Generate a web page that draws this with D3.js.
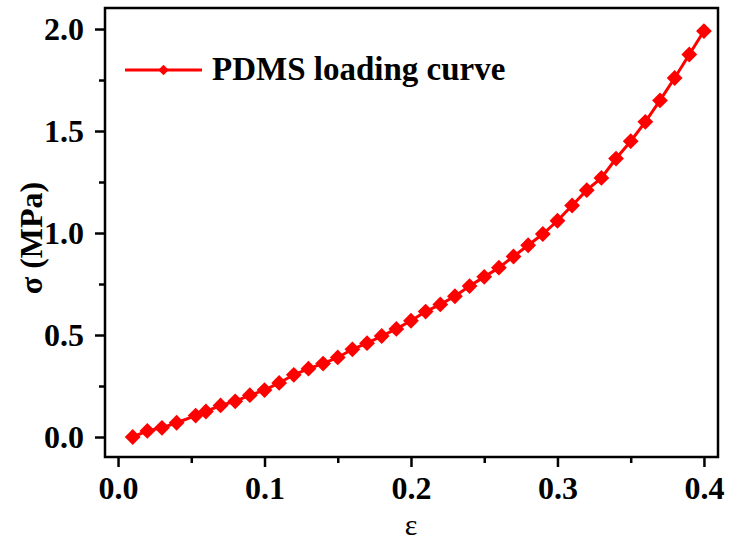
<!DOCTYPE html>
<html>
<head>
<meta charset="utf-8">
<script src="https://cdn.jsdelivr.net/npm/d3@7"></script>
<style>
  body { margin: 0; background: #fff; }
  text { font-family: "Liberation Serif", "Times New Roman", serif; }
</style>
</head>
<body>
<div id="wrapper"></div>
<script>
// strain values (x) and stress values in MPa (y)
var strain = [0.01, 0.02, 0.03, 0.04, 0.053, 0.06, 0.07, 0.08, 0.09, 0.10,
              0.11, 0.12, 0.13, 0.14, 0.15, 0.16, 0.17, 0.18, 0.19, 0.20,
              0.21, 0.22, 0.23, 0.24, 0.25, 0.26, 0.27, 0.28, 0.29, 0.30,
              0.31, 0.32, 0.33, 0.34, 0.35, 0.36, 0.37, 0.38, 0.39, 0.40];
var stress = [0.00, 0.03, 0.045, 0.07, 0.105, 0.125, 0.155, 0.175, 0.205, 0.23,
              0.265, 0.305, 0.335, 0.36, 0.39, 0.43, 0.46, 0.495, 0.53, 0.57,
              0.615, 0.65, 0.69, 0.74, 0.785, 0.83, 0.885, 0.94, 0.995, 1.06,
              1.135, 1.21, 1.27, 1.365, 1.45, 1.545, 1.65, 1.76, 1.875, 1.99];
var xTicks = [0.0, 0.1, 0.2, 0.3, 0.4];
var xMinor = [0.05, 0.15, 0.25, 0.35];
var yTicks = [0.0, 0.5, 1.0, 1.5, 2.0];
var yMinor = [0.25, 0.75, 1.25, 1.75];
var seriesName = "PDMS loading curve";

var width = 729, height = 544;
var svg = d3.select('#wrapper')
            .append('svg')
            .attr('width', width)
            .attr('height', height);

var x = d3.scaleLinear().domain([-0.0089, 0.4096]).range([105, 718]);
var y = d3.scaleLinear().domain([-0.098, 2.103]).range([457, 8]);

var data = strain.map(function(d, i) { return { e: d, s: stress[i] }; });

// axes (ticks point outward)
svg.append("g")
   .attr("transform", "translate(0," + y.range()[0] + ")")
   .call(d3.axisBottom(x).tickValues(xTicks).tickSize(10).tickPadding(9)
         .tickFormat(d3.format(".1f")));
svg.append("g")
   .attr("transform", "translate(0," + y.range()[0] + ")")
   .call(d3.axisBottom(x).tickValues(xMinor).tickSize(6).tickFormat(""));

svg.append("g")
   .attr("transform", "translate(" + x.range()[0] + ",0)")
   .call(d3.axisLeft(y).tickValues(yTicks).tickSize(10).tickPadding(11)
         .tickFormat(d3.format(".1f")));
svg.append("g")
   .attr("transform", "translate(" + x.range()[0] + ",0)")
   .call(d3.axisLeft(y).tickValues(yMinor).tickSize(6).tickFormat(""));

svg.selectAll(".domain").remove();
svg.selectAll(".tick line").attr("stroke", "#000").attr("stroke-width", 2.5);
svg.selectAll(".tick text")
   .attr("fill", "#000")
   .style("font-size", "32px")
   .style("font-weight", "bold");

// frame
svg.append("rect")
   .attr("x", x.range()[0])
   .attr("y", y.range()[1])
   .attr("width", x.range()[1] - x.range()[0])
   .attr("height", y.range()[0] - y.range()[1])
   .attr("fill", "none")
   .attr("stroke", "#000")
   .attr("stroke-width", 2.5);

// curve
var line = d3.line()
    .x(function(d) { return x(d.e); })
    .y(function(d) { return y(d.s); });

svg.append("path")
   .datum(data)
   .attr("d", line)
   .attr("fill", "none")
   .attr("stroke", "#ff0000")
   .attr("stroke-width", 3);

var diamond = d3.symbol().type(d3.symbolSquare).size(125);

svg.selectAll(".pt")
   .data(data)
   .enter()
   .append("path")
   .attr("class", "pt")
   .attr("d", diamond)
   .attr("fill", "#ff0000")
   .attr("transform", function(d) {
       return "translate(" + x(d.e) + "," + y(d.s) + ") rotate(45)";
   });

// legend
var legend = svg.append("g").attr("transform", "translate(125,70)");
legend.append("line")
      .attr("x1", 0).attr("x2", 77)
      .attr("y1", 0).attr("y2", 0)
      .attr("stroke", "#ff0000")
      .attr("stroke-width", 3);
legend.append("path")
      .attr("d", d3.symbol().type(d3.symbolSquare).size(55))
      .attr("fill", "#ff0000")
      .attr("transform", "translate(38.5,0) rotate(45)");
legend.append("text")
      .attr("x", 87)
      .attr("y", 10)
      .style("font-size", "33px")
      .style("font-weight", "bold")
      .text(seriesName);

// axis titles
svg.append("text")
   .attr("x", (x(0) + x(0.4)) / 2)
   .attr("y", 535)
   .attr("text-anchor", "middle")
   .style("font-size", "30px")
   .text("ε");

svg.append("text")
   .attr("transform", "translate(42,238) rotate(-90)")
   .attr("text-anchor", "middle")
   .style("font-size", "32px")
   .style("font-weight", "bold")
   .text("σ (MPa)");
</script>
</body>
</html>
